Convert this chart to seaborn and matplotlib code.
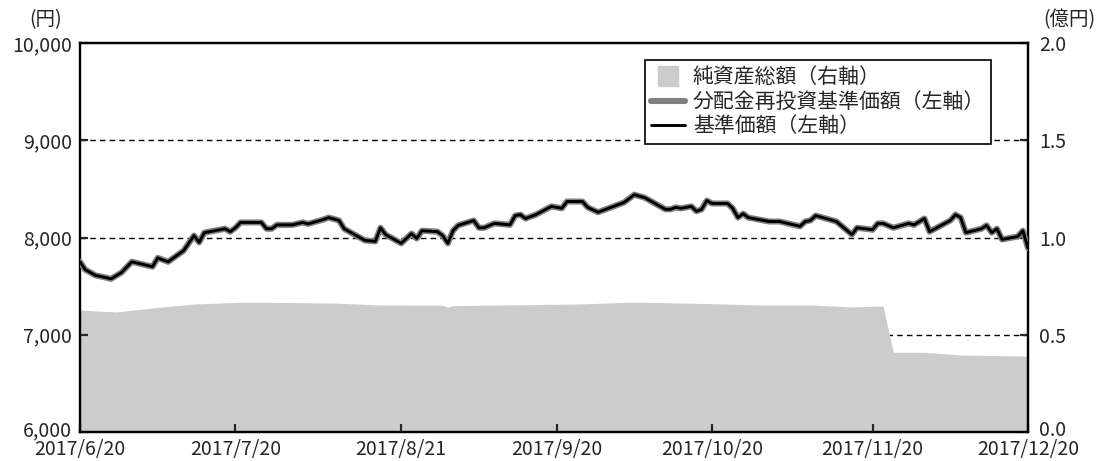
import pandas as pd
import matplotlib
matplotlib.use("Agg")
import matplotlib.pyplot as plt
import matplotlib.transforms as mtransforms
import seaborn as sns
from matplotlib.lines import Line2D

# 基準価額 (円)
nav_dates = ['2017-06-20', '2017-06-21', '2017-06-23', '2017-06-24', '2017-06-26', '2017-06-28',
             '2017-06-30', '2017-07-04', '2017-07-05', '2017-07-07', '2017-07-10', '2017-07-12',
             '2017-07-13', '2017-07-14', '2017-07-18', '2017-07-19', '2017-07-20', '2017-07-21',
             '2017-07-25', '2017-07-26', '2017-07-27', '2017-07-28', '2017-07-31', '2017-08-02',
             '2017-08-03', '2017-08-06', '2017-08-07', '2017-08-09', '2017-08-10', '2017-08-14',
             '2017-08-16', '2017-08-17', '2017-08-18', '2017-08-21', '2017-08-23', '2017-08-24',
             '2017-08-25', '2017-08-28', '2017-08-29', '2017-08-30', '2017-08-31', '2017-09-01',
             '2017-09-04', '2017-09-05', '2017-09-06', '2017-09-08', '2017-09-11', '2017-09-12',
             '2017-09-13', '2017-09-14', '2017-09-16', '2017-09-19', '2017-09-21', '2017-09-22',
             '2017-09-25', '2017-09-26', '2017-09-28', '2017-10-03', '2017-10-05', '2017-10-07',
             '2017-10-11', '2017-10-12', '2017-10-13', '2017-10-14', '2017-10-16', '2017-10-17',
             '2017-10-18', '2017-10-19', '2017-10-20', '2017-10-23', '2017-10-24', '2017-10-25',
             '2017-10-26', '2017-10-27', '2017-10-29', '2017-10-31', '2017-11-02', '2017-11-06',
             '2017-11-07', '2017-11-08', '2017-11-09', '2017-11-13', '2017-11-16', '2017-11-17',
             '2017-11-20', '2017-11-21', '2017-11-22', '2017-11-24', '2017-11-27', '2017-11-28',
             '2017-11-30', '2017-12-01', '2017-12-05', '2017-12-06', '2017-12-07', '2017-12-08',
             '2017-12-11', '2017-12-12', '2017-12-13', '2017-12-14', '2017-12-15', '2017-12-18',
             '2017-12-19', '2017-12-20']
nav_values = [7750, 7670, 7610, 7600, 7575, 7640,
              7750, 7700, 7790, 7750, 7865, 8020,
              7950, 8050, 8090, 8060, 8100, 8155,
              8155, 8090, 8090, 8130, 8130, 8155,
              8140, 8185, 8205, 8175, 8090, 7970,
              7960, 8100, 8030, 7940, 8040, 7990,
              8070, 8060, 8020, 7940, 8070, 8125,
              8175, 8100, 8100, 8145, 8130, 8225,
              8235, 8195, 8235, 8320, 8300, 8370,
              8370, 8310, 8260, 8360, 8440, 8410,
              8290, 8290, 8310, 8300, 8320, 8270,
              8290, 8380, 8350, 8350, 8300, 8205,
              8245, 8205, 8185, 8165, 8165, 8115,
              8165, 8175, 8225, 8165, 8030, 8100,
              8080, 8145, 8145, 8100, 8145, 8130,
              8195, 8060, 8175, 8235, 8205, 8050,
              8090, 8125, 8050, 8090, 7980, 8010,
              8070, 7890]
# 分配金再投資基準価額 (円) - overlaps the NAV line in the chart
reinv_values = list(nav_values)

# 純資産総額 (億円)
asset_dates = ['2017-06-20', '2017-06-27', '2017-07-04', '2017-07-12', '2017-07-22', '2017-08-08',
               '2017-08-17', '2017-08-29', '2017-08-30', '2017-08-31', '2017-09-24', '2017-10-05',
               '2017-10-20', '2017-10-29', '2017-11-08', '2017-11-16', '2017-11-22', '2017-11-24',
               '2017-11-30', '2017-12-07', '2017-12-20']
asset_values = [0.627, 0.617, 0.638, 0.658, 0.668, 0.663,
                0.653, 0.652, 0.641, 0.650, 0.658, 0.668,
                0.660, 0.653, 0.653, 0.643, 0.648, 0.410,
                0.410, 0.396, 0.390]

tick_dates = ['2017-06-20', '2017-07-20', '2017-08-21', '2017-09-20', '2017-10-20', '2017-11-20', '2017-12-20']
tick_labels = ['2017/6/20', '2017/7/20', '2017/8/21', '2017/9/20', '2017/10/20', '2017/11/20', '2017/12/20']
left_ticks = [6000, 7000, 8000, 9000, 10000]
left_labels = ['6,000', '7,000', '8,000', '9,000', '10,000']
right_ticks = [0.0, 0.5, 1.0, 1.5, 2.0]
right_labels = ['0.0', '0.5', '1.0', '1.5', '2.0']

sns.set_style("white")
plt.rcParams['font.family'] = ['Noto Sans CJK JP', 'DejaVu Sans']

nav = pd.DataFrame({'date': pd.to_datetime(nav_dates), 'nav': nav_values, 'reinv': reinv_values})
assets = pd.DataFrame({'date': pd.to_datetime(asset_dates), 'assets': asset_values})

fig = plt.figure(figsize=(10.99, 4.61), dpi=100)
ax1 = fig.add_axes([0.0728, 0.0629, 0.8626, 0.8438])
ax2 = ax1.twinx()
ax1.set_zorder(ax2.get_zorder() + 1)
ax1.patch.set_visible(False)

# right axis: grid + area
for y in [0.5, 1.0, 1.5]:
    ax2.axhline(y, color='black', lw=1, ls=(0, (4, 3)), zorder=0)
ax2.fill_between(assets['date'], assets['assets'], 0, color='#cccccc', lw=0, zorder=1)
ax2.set_ylim(0, 2.0)
ax2.set_yticks(right_ticks)
ax2.set_yticklabels(right_labels)

# left axis: lines
sns.lineplot(data=nav, x='date', y='reinv', ax=ax1, color='#808080', lw=4.4, zorder=3)
sns.lineplot(data=nav, x='date', y='nav', ax=ax1, color='black', lw=2.1, zorder=4)
ax1.set_ylim(6000, 10000)
ax1.set_xlim(pd.Timestamp('2017-06-20'), pd.Timestamp('2017-12-20'))
ax1.set_yticks(left_ticks)
ax1.set_yticklabels(left_labels)
ax1.set_xticks(pd.to_datetime(tick_dates))
ax1.set_xticklabels(tick_labels)
ax1.set_xlabel('')
ax1.set_ylabel('')

for ax in (ax1, ax2):
    for s in ax.spines.values():
        s.set_linewidth(1.6)
        s.set_color('black')
ax1.tick_params(axis='y', direction='in', length=6, width=1.6, labelsize=14, pad=6, left=True)
ax1.tick_params(axis='x', direction='in', length=6, width=1.6, labelsize=14, pad=5, bottom=True)
ax2.tick_params(axis='y', direction='in', length=6, width=1.6, labelsize=14, pad=8, right=True)

# lift the lowest y labels a few pixels so they sit just above the date labels
lift = mtransforms.ScaledTranslation(0, 4 / 100, fig.dpi_scale_trans)
for lab in (ax1.get_yticklabels()[0], ax2.get_yticklabels()[0]):
    lab.set_transform(lab.get_transform() + lift)

fig.text(0.027, 0.98, '(円)', fontsize=14, ha='left', va='top')
fig.text(0.997, 0.98, '(億円)', fontsize=14, ha='right', va='top')

handles = [
    Line2D([], [], marker='s', ls='none', markersize=15, color='#cccccc'),
    Line2D([], [], color='#808080', lw=4.4),
    Line2D([], [], color='black', lw=2.1),
]
labels = ['純資産総額（右軸）', '分配金再投資基準価額（左軸）', '基準価額（左軸）']
leg = ax1.legend(handles, labels, loc='upper left', bbox_to_anchor=(0.596, 0.956),
                 borderaxespad=0, fontsize=15, frameon=True, fancybox=False,
                 edgecolor='black', framealpha=1, handlelength=1.6, handletextpad=0.4,
                 labelspacing=0.12, borderpad=0.3)
leg.get_frame().set_linewidth(1.2)

fig.savefig('out.png', dpi=100)
